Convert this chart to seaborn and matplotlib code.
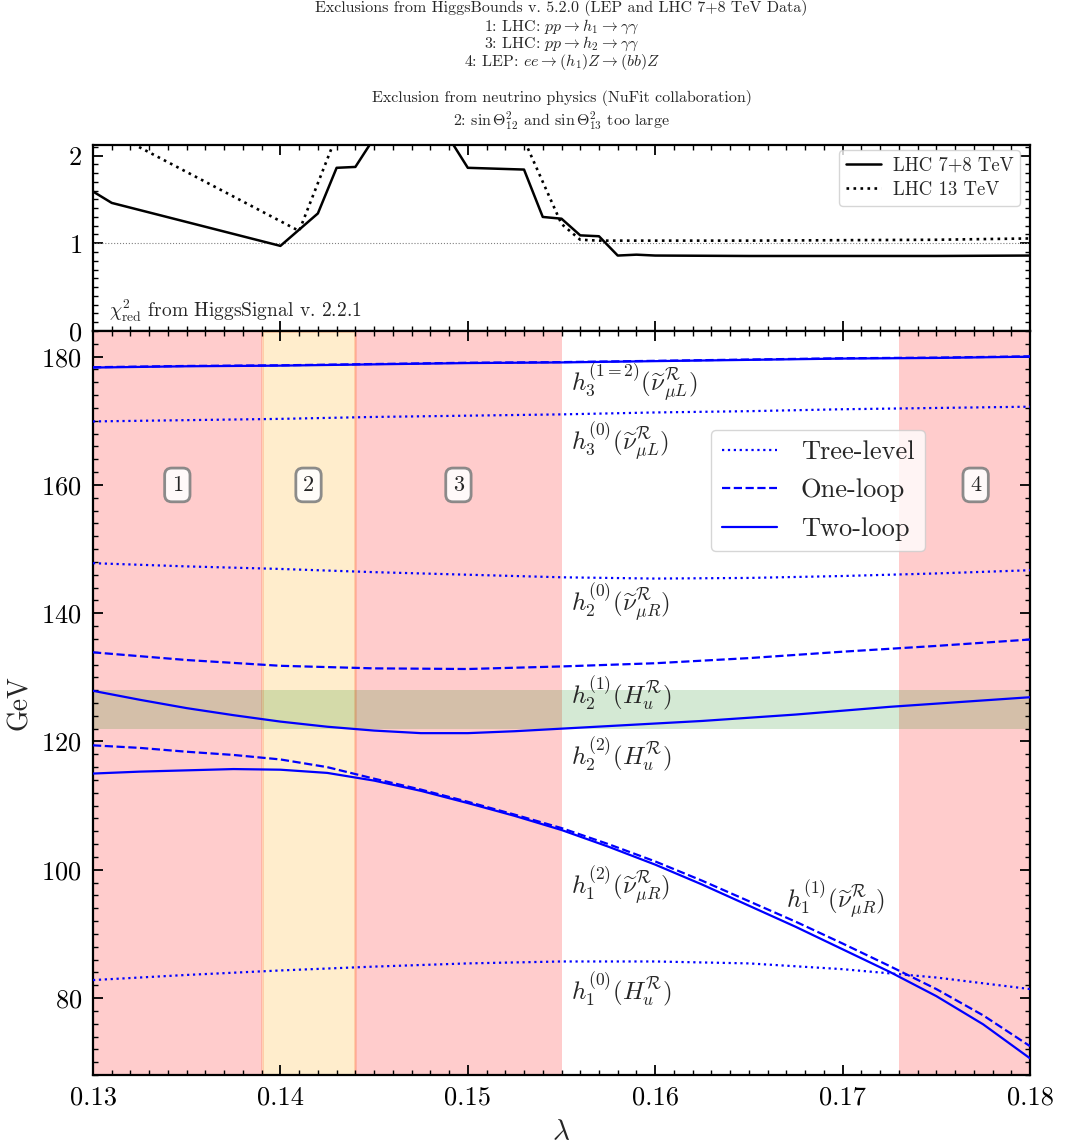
import numpy as np
import pandas as pd
import matplotlib
matplotlib.use("Agg")
import matplotlib.pyplot as plt
import seaborn as sns
from matplotlib.lines import Line2D
from matplotlib.ticker import MultipleLocator, FixedLocator

# ------------------------------------------------------------------ data
lam = [0.130, 0.135, 0.140, 0.145, 0.150, 0.155, 0.160, 0.165, 0.170, 0.175, 0.180]
lam_fine = [0.1300, 0.1325, 0.1350, 0.1375, 0.1400, 0.1425, 0.1450, 0.1475, 0.1500,
            0.1525, 0.1550, 0.1575, 0.1600, 0.1625, 0.1650, 0.1675, 0.1700, 0.1725,
            0.1750, 0.1775, 0.1800]

h1_tree = [82.8, 83.6, 84.3, 84.9, 85.4, 85.7, 85.7, 85.4, 84.5, 83.2, 81.4]
h1_one = [119.4, 119.0, 118.4, 117.9, 117.2, 116.0, 114.2, 112.5, 110.6, 108.6, 106.5,
          104.0, 101.3, 98.3, 95.1, 91.9, 88.5, 85.0, 81.4, 77.3, 72.5]
h1_two = [115.0, 115.3, 115.5, 115.7, 115.6, 115.1, 113.9, 112.3, 110.4, 108.4, 106.2,
          103.6, 100.8, 97.7, 94.4, 91.1, 87.6, 84.1, 80.3, 75.9, 70.6]
h2_tree = [147.8, 147.3, 146.9, 146.4, 146.0, 145.6, 145.4, 145.5, 145.8, 146.2, 146.7]
h2_one = [133.9, 132.7, 131.8, 131.4, 131.3, 131.7, 132.2, 133.0, 134.0, 134.9, 135.9]
h2_two = [127.9, 126.5, 125.2, 124.1, 123.1, 122.3, 121.7, 121.3, 121.3, 121.6, 122.0,
          122.4, 122.8, 123.2, 123.7, 124.2, 124.8, 125.4, 125.9, 126.4, 126.9]
h3_tree = [169.9, 170.1, 170.3, 170.6, 170.8, 171.0, 171.3, 171.5, 171.8, 172.0, 172.2]
h3_one = [178.35, 178.55, 178.65, 178.85, 179.05, 179.15, 179.35, 179.55, 179.75, 179.85, 180.05]
h3_two = [178.3, 178.5, 178.6, 178.8, 179.0, 179.1, 179.3, 179.5, 179.7, 179.8, 180.0]

# chi^2_red from HiggsSignals
lam_lhc78 = [0.130, 0.131, 0.140, 0.142, 0.143, 0.144, 0.145, 0.146, 0.147, 0.148, 0.149,
             0.150, 0.153, 0.154, 0.155, 0.156, 0.157, 0.158, 0.159, 0.160, 0.165, 0.170,
             0.175, 0.180]
chi_lhc78 = [1.59, 1.46, 0.97, 1.34, 1.86, 1.87, 2.20, 2.45, 2.50, 2.45, 2.20,
             1.86, 1.84, 1.30, 1.28, 1.09, 1.08, 0.86, 0.87, 0.86, 0.855, 0.855,
             0.855, 0.86]
lam_lhc13 = [0.130, 0.131, 0.141, 0.143, 0.145, 0.150, 0.153, 0.155, 0.156, 0.157,
             0.160, 0.165, 0.170, 0.175, 0.180]
chi_lhc13 = [2.45, 2.26, 1.14, 2.23, 2.60, 2.60, 2.18, 1.22, 1.04, 1.03,
             1.03, 1.03, 1.035, 1.04, 1.055]

# excluded regions
region_red = [(0.130, 0.139), (0.144, 0.155), (0.173, 0.180)]
region_nu = (0.139, 0.144)
region_ids = ["1", "2", "3", "4"]
region_id_x = [0.1345, 0.1415, 0.1495, 0.1771]
higgs_band = (122.0, 128.0)

title_lines = [
    "Exclusions from HiggsBounds v. 5.2.0 (LEP and LHC 7+8 TeV Data)",
    r"1: LHC: $pp \to h_1 \to \gamma\gamma$",
    r"3: LHC: $pp \to h_2 \to \gamma\gamma$",
    r"4: LEP: $ee \to (h_1)Z \to (bb)Z$",
    "Exclusion from neutrino physics (NuFit collaboration)",
    r"2: $\sin\Theta_{12}^2$ and $\sin\Theta_{13}^2$ too large",
]
title_y_px = [8, 26.5, 44, 61.5, 98, 121]

curve_labels = [
    (0.1555, 176.0, r"$h_3^{(1=2)}(\widetilde{\nu}^{\mathcal{R}}_{\mu L})$"),
    (0.1555, 166.8, r"$h_3^{(0)}(\widetilde{\nu}^{\mathcal{R}}_{\mu L})$"),
    (0.1555, 141.7, r"$h_2^{(0)}(\widetilde{\nu}^{\mathcal{R}}_{\mu R})$"),
    (0.1555, 127.6, r"$h_2^{(1)}(H_u^{\mathcal{R}})$"),
    (0.1555, 118.0, r"$h_2^{(2)}(H_u^{\mathcal{R}})$"),
    (0.1555, 97.6, r"$h_1^{(2)}(\widetilde{\nu}^{\mathcal{R}}_{\mu R})$"),
    (0.1670, 95.3, r"$h_1^{(1)}(\widetilde{\nu}^{\mathcal{R}}_{\mu R})$"),
    (0.1555, 81.4, r"$h_1^{(0)}(H_u^{\mathcal{R}})$"),
]

# ------------------------------------------------------------------ style
sns.set_theme(style="ticks")
plt.rcParams.update({
    "font.family": ["serif"],
    "font.serif": ["cmr10", "DejaVu Serif"],
    "mathtext.fontset": "cm",
    "axes.formatter.use_mathtext": True,
    "axes.unicode_minus": False,
    "xtick.direction": "in", "ytick.direction": "in",
    "xtick.top": True, "ytick.right": True,
    "xtick.major.size": 7, "ytick.major.size": 7,
    "xtick.minor.size": 3.5, "ytick.minor.size": 3.5,
    "xtick.major.width": 1.3, "ytick.major.width": 1.3,
    "xtick.minor.width": 1.0, "ytick.minor.width": 1.0,
    "xtick.major.pad": 8, "ytick.major.pad": 8,
    "axes.linewidth": 1.6,
    "axes.edgecolor": "black",
    "xtick.color": "black", "ytick.color": "black",
})

W, H = 1065, 1147
fig = plt.figure(figsize=(W / 100, H / 100), dpi=100)
left, right = 93 / W, 1030 / W
ax1 = fig.add_axes([left, 1 - 331 / H, right - left, (331 - 145) / H])
ax2 = fig.add_axes([left, 1 - 1075 / H, right - left, (1075 - 331) / H], sharex=ax1)

# ------------------------------------------------------------------ top panel
ax1.axhline(1.0, color="gray", lw=0.8, ls=":", zorder=1)
df78 = pd.DataFrame({"lam": lam_lhc78, "chi": chi_lhc78})
df13 = pd.DataFrame({"lam": lam_lhc13, "chi": chi_lhc13})
sns.lineplot(data=df78, x="lam", y="chi", ax=ax1, color="black", lw=1.8, ls="-",
             label="LHC 7+8 TeV", sort=False)
sns.lineplot(data=df13, x="lam", y="chi", ax=ax1, color="black", lw=1.9, ls=":",
             label="LHC 13 TeV", sort=False)
ax1.set_ylim(0, 2.12)
ax1.yaxis.set_major_locator(FixedLocator([0, 1, 2]))
ax1.yaxis.set_minor_locator(MultipleLocator(0.1))
ax1.set_xlabel("")
ax1.set_ylabel("")
ax1.tick_params(axis="x", which="both", labelbottom=False)
ax1.tick_params(axis="y", labelsize=19)
ax1.legend(loc="upper right", bbox_to_anchor=(0.9893, 0.973), borderaxespad=0,
           fontsize=13.5, handlelength=1.9, handletextpad=0.6, labelspacing=0.35,
           borderpad=0.35, fancybox=True, edgecolor="0.8", framealpha=0.8)
ax1.text(0.017, 0.035, r"$\chi^2_{\rm red}$ from HiggsSignal v. 2.2.1",
         transform=ax1.transAxes, fontsize=14, ha="left", va="bottom")

# ------------------------------------------------------------------ bottom panel
for a, b in region_red:
    ax2.axvspan(a, b, color="red", alpha=0.2, lw=0, zorder=0)
ax2.axvspan(region_nu[0], region_nu[1], facecolor="orange", edgecolor="orangered",
            alpha=0.2, lw=2, zorder=0)
ax2.axhspan(higgs_band[0], higgs_band[1], color="green", alpha=0.17, lw=0, zorder=0)

series = [
    (lam, h3_tree, ":"), (lam, h3_one, "--"), (lam, h3_two, "-"),
    (lam, h2_tree, ":"), (lam, h2_one, "--"), (lam_fine, h2_two, "-"),
    (lam, h1_tree, ":"), (lam_fine, h1_one, "--"), (lam_fine, h1_two, "-"),
]
for xs, ys, ls in series:
    d = pd.DataFrame({"lam": xs, "m": ys})
    sns.lineplot(data=d, x="lam", y="m", ax=ax2, color="blue", lw=1.6, ls=ls,
                 legend=False, sort=False, zorder=3)

for xi, lab in zip(region_id_x, region_ids):
    ax2.text(xi, 160, lab, fontsize=16, ha="center", va="center", zorder=5,
             bbox=dict(boxstyle="round,pad=0.32", fc="white", ec="gray", lw=2, alpha=0.9))

for xi, yi, s in curve_labels:
    ax2.text(xi, yi, s, fontsize=18, ha="left", va="center", zorder=4)

handles = [Line2D([], [], color="blue", lw=1.6, ls=":"),
           Line2D([], [], color="blue", lw=1.6, ls="--"),
           Line2D([], [], color="blue", lw=1.6, ls="-")]
ax2.legend(handles, ["Tree-level", "One-loop", "Two-loop"], loc="upper left",
           bbox_to_anchor=(0.6596, 0.867), borderaxespad=0, fontsize=19,
           handlelength=2.1, handletextpad=0.9, labelspacing=0.55, borderpad=0.4,
           fancybox=True, edgecolor="0.8", framealpha=0.8)

ax2.set_xlim(0.13, 0.18)
ax2.set_ylim(68, 184)
ax2.xaxis.set_major_locator(FixedLocator([0.13, 0.14, 0.15, 0.16, 0.17, 0.18]))
ax2.xaxis.set_minor_locator(MultipleLocator(0.001))
ax2.yaxis.set_major_locator(FixedLocator([80, 100, 120, 140, 160, 180]))
ax2.yaxis.set_minor_locator(MultipleLocator(2))
ax2.xaxis.set_major_formatter(matplotlib.ticker.FuncFormatter(lambda v, p: f"{v:.2f}"))
ax2.tick_params(labelsize=19)
ax1.xaxis.set_minor_locator(MultipleLocator(0.001))
ax2.set_xlabel(r"$\lambda$", fontsize=21, labelpad=7)
ax2.set_ylabel("GeV", fontsize=20, labelpad=6)

# ------------------------------------------------------------------ header text
xc = (93 + 1030) / 2 / W
for s, ypx in zip(title_lines, title_y_px):
    fig.text(xc, 1 - ypx / H, s, fontsize=11.5, ha="center", va="center")

fig.savefig("out.png", dpi=100)
